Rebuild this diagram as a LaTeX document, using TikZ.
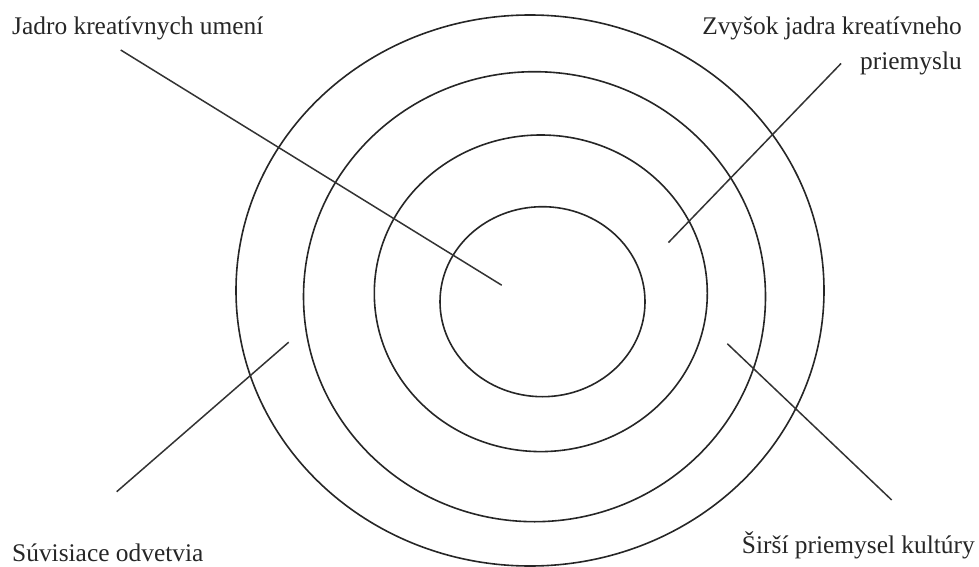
\documentclass[tikz,border=0pt]{standalone}
\usepackage{fontspec}
\setmainfont{Liberation Serif}
\usepackage{tikz}

\begin{document}
\begin{tikzpicture}[x=1pt, y=-1pt,
    ring/.style={line width=1.6pt, draw=black!85},
    pointer/.style={line width=1.5pt, draw=black!80},
    tag/.style={font=\fontsize{25.4}{35}\selectfont, inner sep=0pt, text=black!85}]
  \useasboundingbox (0,0) rectangle (979,567);

  % Concentric rings
  \draw[ring] (530,290.5) ellipse [x radius=294, y radius=275.5];
  \draw[ring] (534.5,296.7) ellipse [x radius=231, y radius=225];
  \draw[ring] (540.8,293.3) ellipse [x radius=166.5, y radius=158.3];
  \draw[ring] (542.5,301.7) ellipse [x radius=102.5, y radius=95];

  % Labels
  \node[tag, anchor=base west] (core) at (12,35) {Jadro kreatívnych umení};
  \node[tag, anchor=base east, align=right] (rest) at (962,70) {Zvyšok jadra kreatívneho\\priemyslu};
  \node[tag, anchor=base west] (related) at (12,561) {Súvisiace odvetvia};
  \node[tag, anchor=base east] (wider) at (975,553) {Širší priemysel kultúry};

  % Pointer ends
  \coordinate (coreTail) at (120.7,50);
  \coordinate (coreTip) at (501.7,285.2);
  \coordinate (restTail) at (841,63.5);
  \coordinate (restTip) at (668.4,242.6);
  \coordinate (relatedTail) at (116.7,491.7);
  \coordinate (relatedTip) at (288.7,342.2);
  \coordinate (widerTail) at (891.7,500);
  \coordinate (widerTip) at (727.3,343.7);

  % Pointers
  \draw[pointer] (coreTail) -- (coreTip);
  \draw[pointer] (restTail) -- (restTip);
  \draw[pointer] (relatedTail) -- (relatedTip);
  \draw[pointer] (widerTail) -- (widerTip);
\end{tikzpicture}
\end{document}
